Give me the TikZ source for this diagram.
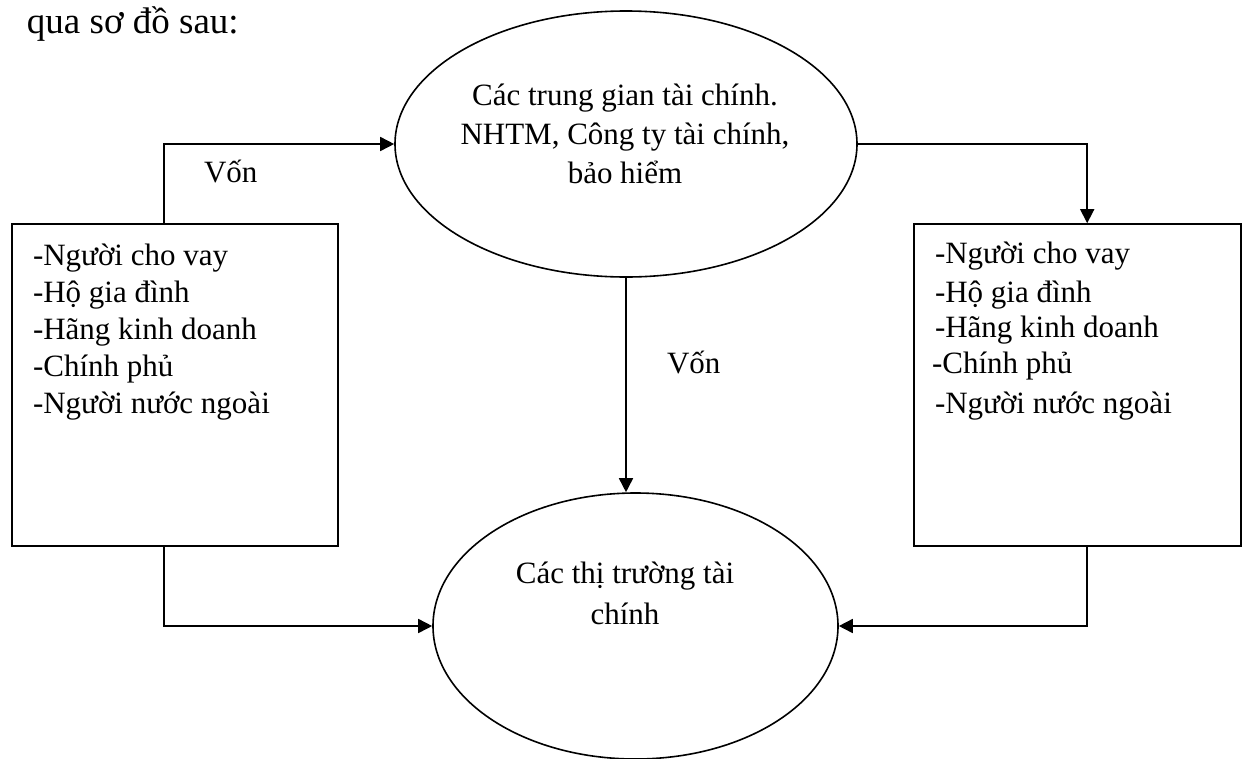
\documentclass[tikz,border=0pt]{standalone}
\usepackage{fontspec}
\setmainfont{Liberation Serif}
\usetikzlibrary{arrows.meta,shapes.geometric}
\begin{document}
\begin{tikzpicture}[x=1pt,y=-1pt,
  arr/.style={line width=1.6pt,-{Triangle[length=14pt,width=14pt]}},
  txt/.style={font=\fontsize{31}{37}\selectfont, inner sep=0pt, outer sep=0pt},
  ell/.style={ellipse, draw, line width=1.6pt, inner sep=0pt},
  boxx/.style={rectangle, draw, line width=1.6pt, inner sep=0pt}]
\useasboundingbox (0,0) rectangle (1248,758);
\node[txt, font=\fontsize{37}{44}\selectfont, anchor=base west] (title) at (27,33) {qua sơ đồ sau:};
% shapes
\node[ell, minimum width=462pt, minimum height=266pt] (fi) at (626,144) {};
\node[ell, minimum width=405pt, minimum height=266pt] (mkt) at (635.5,626) {};
\node[boxx, minimum width=326pt, minimum height=322pt] (lbox) at (175,385) {};
\node[boxx, minimum width=327pt, minimum height=322pt] (rbox) at (1077.5,385) {};
% texts (anchor base = baseline of the last line)
\node[txt, font=\fontsize{31}{39}\selectfont, align=center, anchor=base] (fitext) at (625,183)
  {Các trung gian tài chính.\\NHTM, Công ty tài chính,\\bảo hiểm};
\node[txt, font=\fontsize{31}{41}\selectfont, align=center, anchor=base] (mkttext) at (625,624)
  {Các thị trường tài\\chính};
\node[txt, align=left, anchor=base west] (ltext) at (33,413)
  {-Người cho vay\\-Hộ gia đình\\-Hãng kinh doanh\\-Chính phủ\\-Người nước ngoài};
\node[txt, align=left, anchor=base west] (rtext) at (935,413)
  {-Người cho vay\\[2pt]-Hộ gia đình\\[-2pt]-Hãng kinh doanh\\[-1pt]\hspace*{-3pt}-Chính phủ\\[3pt]-Người nước ngoài};
\node[txt, anchor=base west] (von1) at (204,182) {Vốn};
\node[txt, anchor=base west] (von2) at (667,373) {Vốn};
% connectors
\draw[arr] ([xshift=153pt]lbox.north west) |- (fi.west);
\draw[arr] (fi.east) -| ([xshift=174pt]rbox.north west);
\draw[arr] (fi.south) -- (fi.south |- mkt.north);
\draw[arr] ([xshift=153pt]lbox.south west) |- (mkt.west);
\draw[arr] ([xshift=174pt]rbox.south west) |- (mkt.east);
\end{tikzpicture}
\end{document}
